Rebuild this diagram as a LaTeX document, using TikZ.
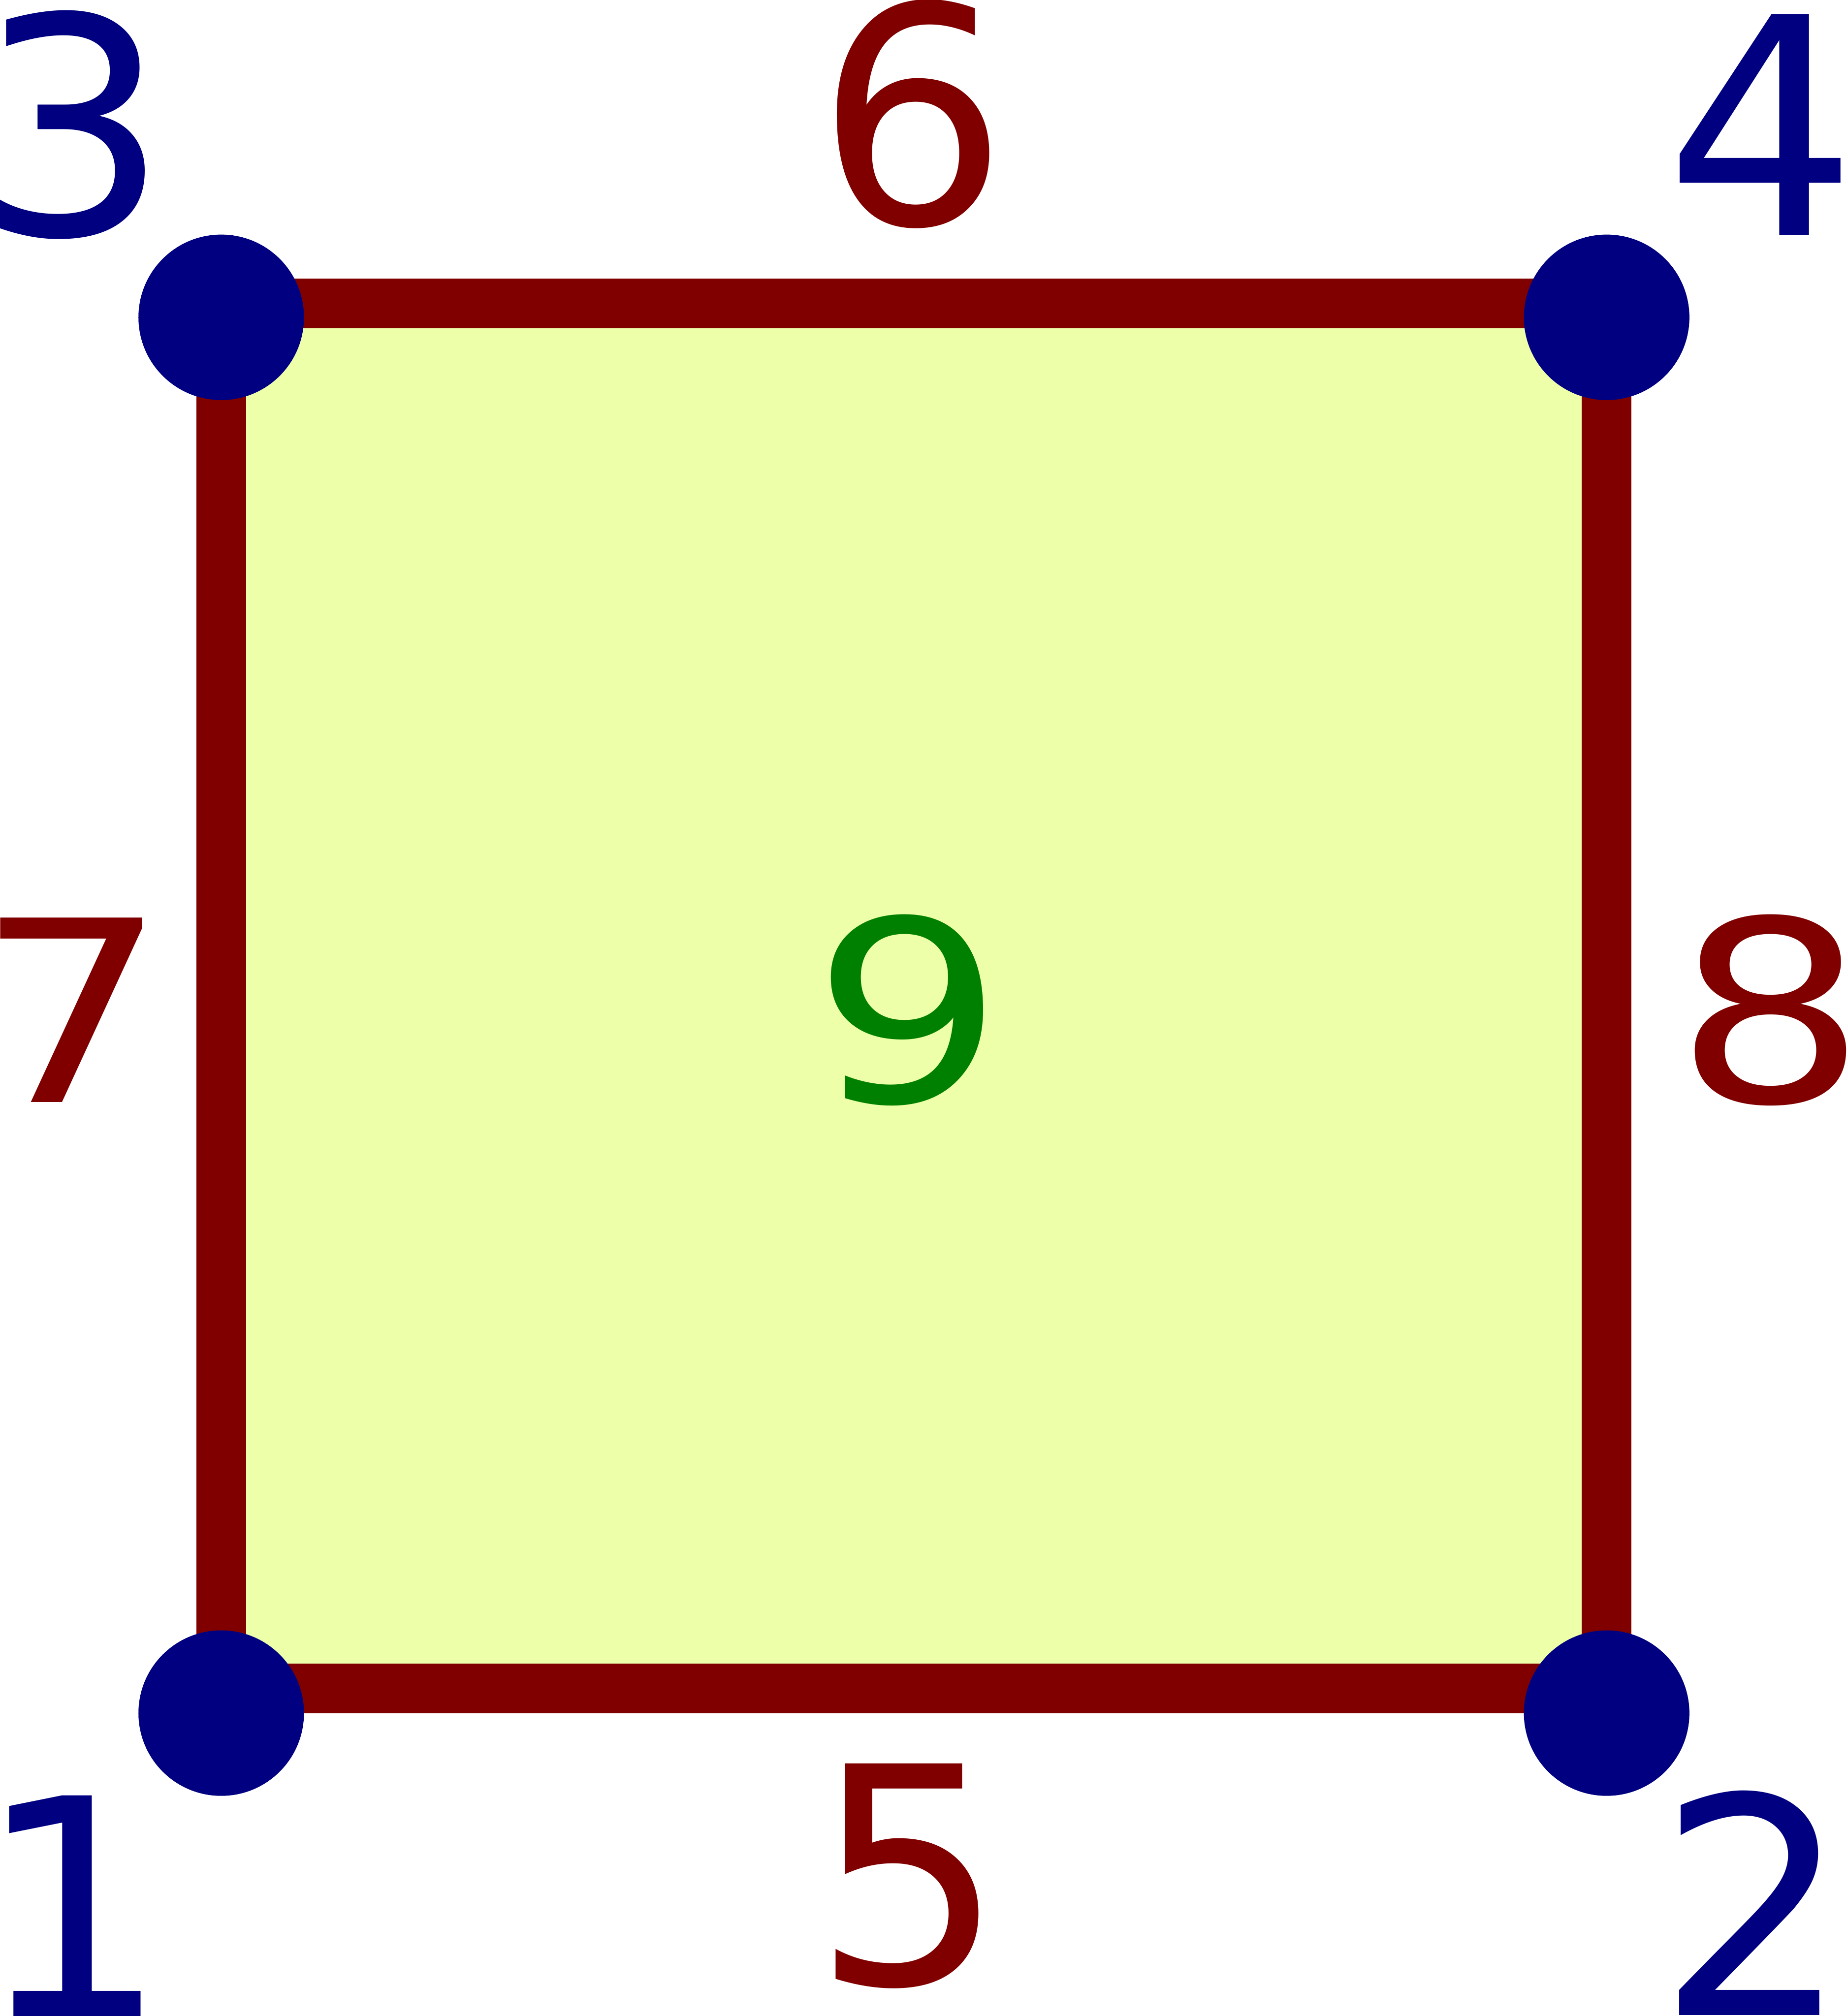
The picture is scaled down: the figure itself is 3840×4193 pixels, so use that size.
\documentclass[tikz,border=0pt]{standalone}
\usepackage{fontspec}
\usepackage{graphicx}
\newfontfamily\labelfont{DejaVu Sans}
\definecolor{vertexblue}{RGB}{0,0,128}
\definecolor{edgered}{RGB}{128,0,0}
\definecolor{facegreen}{RGB}{0,128,0}
\definecolor{facefill}{RGB}{238,255,170}

\begin{document}
\begin{tikzpicture}[x=0.01cm, y=-0.01cm,
  vertex/.style={circle, fill=vertexblue, inner sep=0pt, minimum size=3.44cm},
  numlabel/.style={anchor=base, inner sep=0pt, font=\labelfont\fontsize{179}{179}\selectfont},
  edgeline/.style={draw=edgered, line width=1.03cm, line join=miter}]
\useasboundingbox (0,0) rectangle (3840,4193);
% corners of the face
\coordinate (c1) at (460,3512);
\coordinate (c2) at (3341,3512);
\coordinate (c3) at (460,631);
\coordinate (c4) at (3341,631);
\draw[edgeline, fill=facefill] (c1) -- (c2) -- (c4) -- (c3) -- cycle;
% vertices
\node[vertex] (v1) at (460,3563) {};
\node[vertex] (v2) at (3341,3563) {};
\node[vertex] (v3) at (460,660) {};
\node[vertex] (v4) at (3341,660) {};
% labels
\node[numlabel, text=vertexblue] (l1) at (151,4193) {1};
\node[numlabel, text=vertexblue] (l2) at (3646,4191) {2};
\node[numlabel, text=vertexblue] (l3) at (152,489) {3};
\node[numlabel, text=vertexblue] (l4) at (3663,489) {4};
\node[numlabel, text=edgered] (l5) at (1890,4127) {5};
\node[numlabel, text=edgered] (l6) at (1897,466) {6};
\node[numlabel, text=edgered] (l7) at (150,2292) {\scalebox{1}[0.836]{7}};
\node[numlabel, text=edgered] (l8) at (3682,2293) {\scalebox{1}[0.836]{8}};
\node[numlabel, text=facegreen] (l9) at (1889,2293) {\scalebox{1}[0.836]{9}};
\end{tikzpicture}
\end{document}
